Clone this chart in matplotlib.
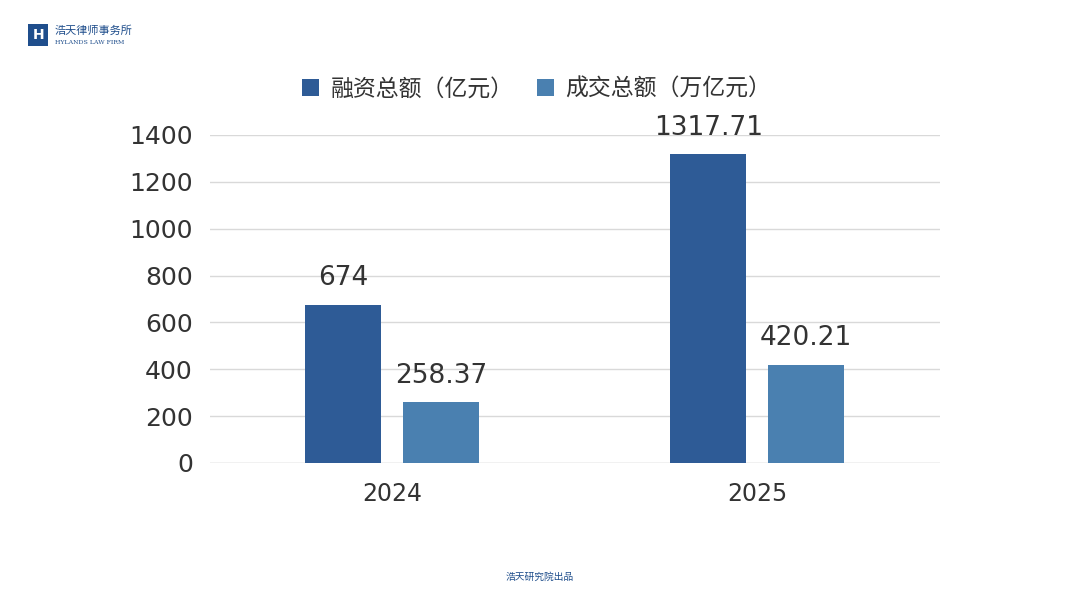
import matplotlib
matplotlib.use("Agg")
import matplotlib.pyplot as plt
import numpy as np
from matplotlib.patches import Rectangle

plt.rcParams['font.family'] = ['DejaVu Sans', 'Noto Sans CJK SC']

years = ["2024", "2025"]
financing = [674, 1317.71]
volume = [258.37, 420.21]
fin_labels = ["674", "1317.71"]
vol_labels = ["258.37", "420.21"]
series_names = ["融资总额（亿元）", "成交总额（万亿元）"]
yticks = [0, 200, 400, 600, 800, 1000, 1200, 1400]

c1, c2 = "#2E5B96", "#4A80B0"
fig = plt.figure(figsize=(10.8, 6.08), dpi=100)
ax = fig.add_axes([0.194, 0.2385, 0.676, 0.5395])
x = np.arange(len(years))
w, off = 0.21, 0.134
b1 = ax.bar(x - off, financing, w, color=c1, label=series_names[0], zorder=3)
b2 = ax.bar(x + off, volume, w, color=c2, label=series_names[1], zorder=3)
for rect, t in zip(list(b1) + list(b2), fin_labels + vol_labels):
    ax.text(rect.get_x() + rect.get_width()/2, rect.get_height() + 58, t,
            ha='center', va='bottom', fontsize=19, color='#333333')
ax.set_xlim(-0.5, 1.5)
ax.set_ylim(0, 1400)
ax.set_yticks(yticks)
ax.set_xticks(x)
ax.set_xticklabels(years)
ax.tick_params(axis='both', length=0, labelsize=18, colors='#333333')
ax.tick_params(axis='y', pad=12)
ax.tick_params(axis='x', pad=14, labelsize=17)
ax.yaxis.grid(True, color='#D9D9D9', lw=1, zorder=0)
for s in ax.spines.values():
    s.set_visible(False)
ax.axhline(0, color='#D9D9D9', lw=1, zorder=2)
leg = fig.legend(loc='center', bbox_to_anchor=(0.497, 0.853), ncol=2, frameon=False,
           prop={'family': ['Noto Sans CJK SC'], 'size': 16.5}, handlelength=0.75,
           handleheight=0.75, columnspacing=1.0, handletextpad=0.5, labelcolor='#333333')

# logo
fig.patches.append(Rectangle((28/1080, 1-46/608), 20/1080, 22/608, transform=fig.transFigure,
                             facecolor='#1F4E8C', edgecolor='none'))
fig.text(33/1080, 1-35/608, "H", color='white', fontsize=10, ha='left', va='center', weight='bold')
fig.text(55/1080, 1-31/608, "浩天律师事务所", color='#1F4E8C', fontsize=8, va='center',
         family=['Noto Sans CJK SC'])
fig.text(55/1080, 1-42/608, "HYLANDS LAW FIRM", color='#1F4E8C', fontsize=4.5, va='center',
         family='DejaVu Serif')
fig.text(0.5, 1-577/608, "浩天研究院出品", color='#1F4E8C', fontsize=7, ha='center', va='center',
         family=['Noto Sans CJK SC'])
fig.savefig("out.png", dpi=100)
